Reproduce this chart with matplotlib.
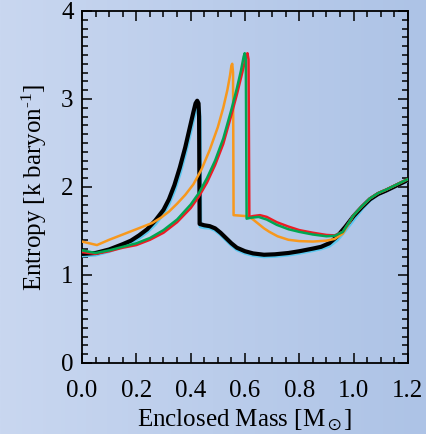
import numpy as np
import matplotlib
matplotlib.use("Agg")
import matplotlib.pyplot as plt
from matplotlib.colors import LinearSegmentedColormap
from matplotlib.ticker import MultipleLocator

plt.rcParams['font.family'] = ['Liberation Serif', 'DejaVu Serif']
plt.rcParams['mathtext.fontset'] = 'custom'
plt.rcParams['mathtext.rm'] = 'Liberation Serif'
plt.rcParams['mathtext.it'] = 'Liberation Serif:italic'
plt.rcParams['mathtext.fallback'] = 'stix'

# enclosed mass [Msun] vs entropy [k/baryon]
tail_x = [1.0, 1.03, 1.06, 1.09, 1.12, 1.16, 1.20]
tail_y = [1.68, 1.78, 1.87, 1.93, 1.97, 2.03, 2.09]

black_x = [0.0, 0.05, 0.10, 0.15, 0.18, 0.21, 0.24, 0.27, 0.30, 0.32, 0.34, 0.36, 0.38, 0.395, 0.41,
           0.418, 0.424, 0.429, 0.431, 0.433, 0.45, 0.47, 0.49, 0.51, 0.53, 0.55, 0.57, 0.60, 0.63,
           0.67, 0.71, 0.76, 0.80, 0.85, 0.88, 0.91, 0.94, 0.97,
           1.0, 1.03, 1.06, 1.09, 1.12, 1.16, 1.20]
black_y = [1.24, 1.25, 1.29, 1.35, 1.39, 1.45, 1.52, 1.62, 1.74, 1.86, 2.02, 2.22, 2.45, 2.65, 2.85,
           2.95, 2.98, 2.95, 2.80, 1.58, 1.565, 1.555, 1.53, 1.48, 1.42, 1.36, 1.31, 1.27, 1.245,
           1.23, 1.235, 1.25, 1.27, 1.30, 1.32, 1.36, 1.44, 1.55,
           1.67, 1.77, 1.86, 1.92, 1.96, 2.02, 2.08]

cyan_x = [0.0, 0.05, 0.10, 0.15, 0.18, 0.21, 0.24, 0.27, 0.30, 0.32, 0.34, 0.36, 0.38, 0.395, 0.41,
          0.42, 0.426, 0.431, 0.434, 0.436, 0.45, 0.47, 0.49, 0.51, 0.53, 0.55, 0.57, 0.60, 0.63,
          0.67, 0.71, 0.76, 0.80, 0.85, 0.88, 0.91, 0.94, 0.97,
          1.0, 1.03, 1.06, 1.09, 1.12, 1.16, 1.20]
cyan_y = [1.22, 1.23, 1.27, 1.33, 1.37, 1.42, 1.49, 1.58, 1.70, 1.81, 1.96, 2.15, 2.38, 2.57, 2.77,
          2.88, 2.92, 2.90, 2.75, 1.55, 1.54, 1.535, 1.51, 1.46, 1.40, 1.34, 1.29, 1.25, 1.225,
          1.21, 1.215, 1.23, 1.25, 1.28, 1.30, 1.33, 1.40, 1.51,
          1.63, 1.75, 1.85, 1.92, 1.96, 2.02, 2.07]

orange_x = [0.0, 0.055, 0.10, 0.15, 0.20, 0.258, 0.29, 0.32, 0.35, 0.38, 0.41, 0.44, 0.47, 0.50,
            0.52, 0.535, 0.545, 0.550, 0.553, 0.556, 0.558, 0.60, 0.615, 0.63, 0.65, 0.67, 0.69,
            0.72, 0.76, 0.80, 0.85, 0.90, 0.93, 0.96] + tail_x
orange_y = [1.38, 1.34, 1.40, 1.46, 1.52, 1.59, 1.65, 1.72, 1.81, 1.91, 2.03, 2.20, 2.42, 2.68,
            2.90, 3.10, 3.27, 3.38, 3.40, 3.30, 1.68, 1.67, 1.66, 1.63, 1.58, 1.53, 1.49,
            1.44, 1.40, 1.385, 1.38, 1.39, 1.41, 1.47] + tail_y

red_x = [0.0, 0.05, 0.10, 0.15, 0.20, 0.25, 0.30, 0.35, 0.40, 0.43, 0.46, 0.49, 0.52, 0.55, 0.57,
         0.59, 0.603, 0.609, 0.613, 0.616, 0.63, 0.655, 0.68, 0.717, 0.76, 0.80, 0.85, 0.90,
         0.93, 0.96] + tail_x
red_y = [1.26, 1.24, 1.27, 1.31, 1.34, 1.40, 1.48, 1.60, 1.76, 1.89, 2.05, 2.25, 2.49, 2.82, 3.05,
         3.30, 3.47, 3.52, 3.45, 1.66, 1.67, 1.68, 1.66, 1.60, 1.55, 1.51, 1.48, 1.455,
         1.45, 1.49] + tail_y

green_x = [0.0, 0.05, 0.10, 0.15, 0.20, 0.25, 0.30, 0.35, 0.40, 0.43, 0.46, 0.49, 0.52, 0.55, 0.57,
           0.585, 0.595, 0.599, 0.603, 0.606, 0.62, 0.65, 0.68, 0.717, 0.76, 0.80, 0.85, 0.90,
           0.93, 0.96] + tail_x
green_y = [1.28, 1.25, 1.28, 1.32, 1.36, 1.42, 1.51, 1.63, 1.80, 1.93, 2.10, 2.30, 2.55, 2.88, 3.12,
           3.32, 3.48, 3.52, 3.45, 1.64, 1.65, 1.66, 1.63, 1.57, 1.52, 1.49, 1.46, 1.44,
           1.445, 1.49] + tail_y

fig = plt.figure(figsize=(4.26, 4.34), dpi=100)

# light blue gradient behind everything
bg = fig.add_axes([0, 0, 1, 1], zorder=-10)
cmap = LinearSegmentedColormap.from_list('bg', ['#c9d7f0', '#adc3e6'])
bg.imshow(np.linspace(0, 1, 256).reshape(1, -1), aspect='auto', cmap=cmap, extent=[0, 1, 0, 1])
bg.axis('off')

ax = fig.add_axes([0.1925, 0.1636, 0.7652, 0.8111])
ax.patch.set_alpha(0)

kw = dict(solid_joinstyle='round', solid_capstyle='round')
ax.plot(cyan_x, cyan_y, color='#5bc8f0', lw=2.6, zorder=3, **kw)
ax.plot(black_x, black_y, color='black', lw=3.0, zorder=4, **kw)
ax.plot(orange_x, orange_y, color='#f7981d', lw=1.8, zorder=5, **kw)
ax.plot(red_x, red_y, color='#ec1c24', lw=1.8, zorder=6, **kw)
ax.plot(green_x, green_y, color='#00a651', lw=1.8, zorder=7, **kw)

ax.set_xlim(0, 1.2)
ax.set_ylim(0, 4)
ax.xaxis.set_major_locator(MultipleLocator(0.2))
ax.xaxis.set_minor_locator(MultipleLocator(0.05))
ax.yaxis.set_major_locator(MultipleLocator(1))
ax.yaxis.set_minor_locator(MultipleLocator(0.1))
ax.xaxis.set_major_formatter(plt.FormatStrFormatter('%.1f'))
ax.tick_params(which='both', direction='in', top=True, right=True, width=1.1, colors='black')
ax.tick_params(which='major', length=7)
ax.tick_params(which='minor', length=4)
ax.tick_params(axis='x', labelsize=18, pad=12)
ax.tick_params(axis='y', labelsize=18, pad=6)
for s in ax.spines.values():
    s.set_linewidth(1.3)

ax.set_xlabel(r'Enclosed Mass [M$_\odot$]', fontsize=18, labelpad=4)
ax.set_ylabel(r'Entropy [k baryon$^{\text{-1}}$]', fontsize=18, labelpad=9)

fig.savefig('out.png', dpi=100)
